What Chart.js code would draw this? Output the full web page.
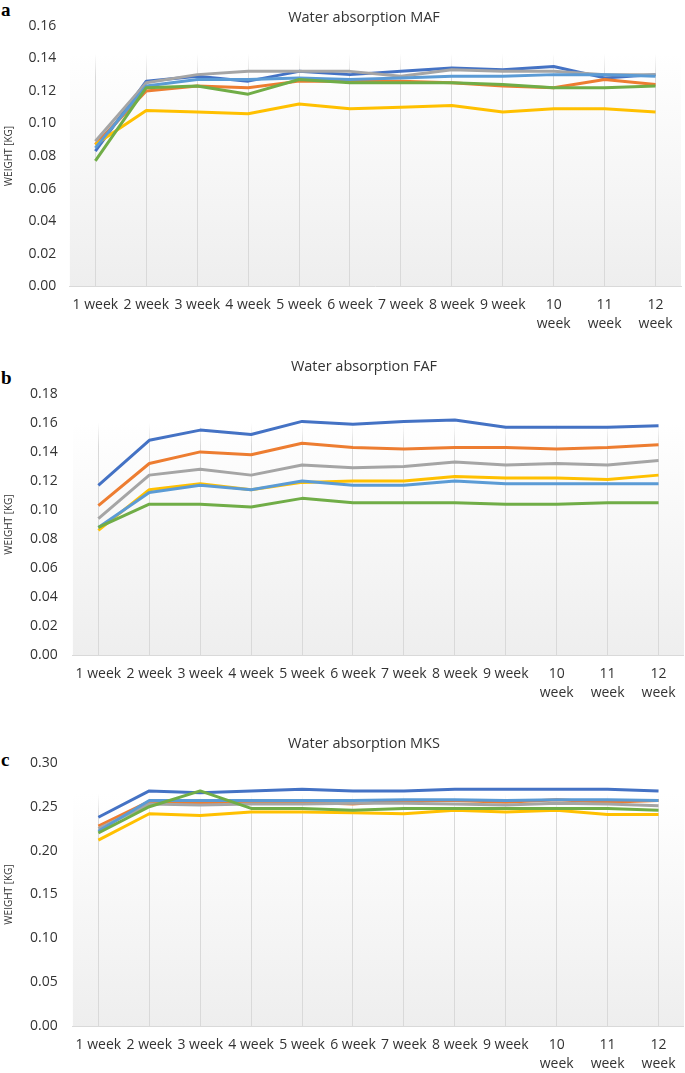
<!DOCTYPE html>
<html lang="en">
<head>
<meta charset="UTF-8">
<title>Water absorption</title>
<script src="https://cdn.jsdelivr.net/npm/chart.js"></script>
<style>
  body { margin: 0; width: 685px; height: 1073px; overflow: hidden; background: #fff; position: relative; }
  .panel { position: absolute; left: 0; width: 685px; }
  .letter { position: absolute; left: 1px; font-family: 'Liberation Serif', serif; font-weight: bold; font-size: 19px; line-height: 1; color: #000; }
  .title { position: absolute; left: 0; width: 728px; text-align: center; font-family: 'Open Sans', sans-serif; font-size: 14.5px; line-height: 17px; color: #333; z-index: 2; }
</style>
</head>
<body>

<div class="letter" style="top:0px">a</div>
<div class="letter" style="top:368px">b</div>
<div class="letter" style="top:750px">c</div>

<div class="title" style="top:8px">Water absorption MAF</div>
<div class="title" style="top:357px">Water absorption FAF</div>
<div class="title" style="top:734px">Water absorption MKS</div>

<div class="panel" style="top:0px;height:343px"><canvas id="chartMAF"></canvas></div>
<div class="panel" style="top:349px;height:363px"><canvas id="chartFAF"></canvas></div>
<div class="panel" style="top:726px;height:357px"><canvas id="chartMKS"></canvas></div>

<script>
// categories
const weeks = ['1 week', '2 week', '3 week', '4 week', '5 week', '6 week', '7 week', '8 week', '9 week',
    ['10', 'week'], ['11', 'week'], ['12', 'week']];

// Excel default palette: blue, orange, gray, yellow, light blue, green
const seriesColors = ['#4472C4', '#ED7D31', '#A5A5A5', '#FFC000', '#5B9BD5', '#70AD47'];

// a - MAF
const mafBlue = [0.083, 0.126, 0.129, 0.126, 0.132, 0.130, 0.132, 0.134, 0.133, 0.135, 0.128, 0.130];
const mafOrange = [0.087, 0.120, 0.123, 0.122, 0.126, 0.126, 0.126, 0.125, 0.123, 0.122, 0.127, 0.124];
const mafGray = [0.089, 0.125, 0.130, 0.132, 0.132, 0.132, 0.129, 0.133, 0.132, 0.132, 0.130, 0.130];
const mafYellow = [0.087, 0.108, 0.107, 0.106, 0.112, 0.109, 0.110, 0.111, 0.107, 0.109, 0.109, 0.107];
const mafLightBlue = [0.085, 0.123, 0.127, 0.127, 0.128, 0.127, 0.128, 0.129, 0.129, 0.130, 0.130, 0.129];
const mafGreen = [0.077, 0.122, 0.123, 0.118, 0.127, 0.125, 0.125, 0.125, 0.124, 0.122, 0.122, 0.123];

// b - FAF
const fafBlue = [0.117, 0.148, 0.155, 0.152, 0.161, 0.159, 0.161, 0.162, 0.157, 0.157, 0.157, 0.158];
const fafOrange = [0.103, 0.132, 0.140, 0.138, 0.146, 0.143, 0.142, 0.143, 0.143, 0.142, 0.143, 0.145];
const fafGray = [0.094, 0.124, 0.128, 0.124, 0.131, 0.129, 0.130, 0.133, 0.131, 0.132, 0.131, 0.134];
const fafYellow = [0.086, 0.114, 0.118, 0.114, 0.119, 0.120, 0.120, 0.123, 0.122, 0.122, 0.121, 0.124];
const fafLightBlue = [0.088, 0.112, 0.117, 0.114, 0.120, 0.117, 0.117, 0.120, 0.118, 0.118, 0.118, 0.118];
const fafGreen = [0.088, 0.104, 0.104, 0.102, 0.108, 0.105, 0.105, 0.105, 0.104, 0.104, 0.105, 0.105];

// c - MKS
const mksBlue = [0.238, 0.268, 0.266, 0.268, 0.270, 0.268, 0.268, 0.270, 0.270, 0.270, 0.270, 0.268];
const mksOrange = [0.228, 0.256, 0.254, 0.256, 0.255, 0.253, 0.257, 0.257, 0.255, 0.258, 0.255, 0.257];
const mksGray = [0.225, 0.253, 0.252, 0.253, 0.253, 0.254, 0.254, 0.253, 0.252, 0.254, 0.253, 0.251];
const mksYellow = [0.212, 0.242, 0.240, 0.244, 0.244, 0.243, 0.242, 0.246, 0.244, 0.246, 0.241, 0.241];
const mksLightBlue = [0.222, 0.257, 0.257, 0.257, 0.257, 0.257, 0.258, 0.258, 0.257, 0.258, 0.258, 0.257];
const mksGreen = [0.220, 0.250, 0.268, 0.248, 0.248, 0.246, 0.248, 0.248, 0.248, 0.248, 0.248, 0.246];

const textColor = '#333333';
const fontFamily = "'Open Sans', sans-serif";

// gray gradient behind the plot, starting a bit above the data
const plotAreaFill = {
    id: 'plotArea',
    beforeDraw(chart, args, opts) {
        const { ctx, chartArea: a, scales: { y } } = chart;
        const top = y.getPixelForValue(opts.top);
        const g = ctx.createLinearGradient(0, top, 0, a.bottom);
        g.addColorStop(0, '#ffffff');
        g.addColorStop(1, '#eeeeee');
        ctx.save();
        ctx.fillStyle = g;
        ctx.fillRect(a.left, top, a.right - a.left, a.bottom - top);
        ctx.restore();
    }
};

function gridColor(chart, topValue) {
    const a = chart.chartArea;
    const y = chart.scales.y;
    if (!a || !y) return '#d9d9d9';
    const top = y.getPixelForValue(topValue);
    if (!isFinite(top) || !isFinite(a.bottom) || a.bottom <= top) return '#d9d9d9';
    const g = chart.ctx.createLinearGradient(0, top, 0, a.bottom);
    g.addColorStop(0, 'rgba(217,217,217,0)');
    g.addColorStop(0.1, 'rgba(217,217,217,1)');
    g.addColorStop(1, 'rgba(217,217,217,1)');
    return g;
}

function drawPanel(id, series, yMax, yStep, plotTop, pad) {
    new Chart(document.getElementById(id), {
        type: 'line',
        data: {
            labels: weeks,
            datasets: series.map(function (d, i) {
                return {
                    data: d,
                    borderColor: seriesColors[i],
                    backgroundColor: seriesColors[i],
                    borderWidth: 3,
                    pointRadius: 0,
                    tension: 0,
                    fill: false,
                    borderJoinStyle: 'round',
                    order: series.length - i
                };
            })
        },
        options: {
            responsive: true,
            maintainAspectRatio: false,
            animation: false,
            layout: { padding: { left: pad.left, right: pad.right, top: pad.top, bottom: 0 } },
            plugins: {
                legend: { display: false },
                tooltip: { enabled: false },
                plotArea: { top: plotTop }
            },
            scales: {
                x: {
                    offset: true,
                    grid: {
                        offset: false,
                        drawTicks: false,
                        lineWidth: 1,
                        color: function (ctx) { return gridColor(ctx.chart, plotTop); }
                    },
                    border: { color: '#d9d9d9', width: 1 },
                    ticks: {
                        autoSkip: false,
                        maxRotation: 0,
                        padding: 9.5,
                        color: textColor,
                        font: { family: fontFamily, size: 14, lineHeight: 1.35 }
                    }
                },
                y: {
                    min: 0,
                    max: yMax,
                    grid: { display: false, drawTicks: false },
                    border: { display: false },
                    ticks: {
                        stepSize: yStep,
                        padding: pad.tick,
                        color: textColor,
                        font: { family: fontFamily, size: 14 },
                        callback: function (v) { return v.toFixed(2); }
                    },
                    title: {
                        display: true,
                        text: 'WEIGHT [KG]',
                        color: textColor,
                        padding: 0,
                        font: { family: fontFamily, size: 10 }
                    }
                }
            }
        },
        plugins: [plotAreaFill]
    });
}

drawPanel('chartMAF', [mafBlue, mafOrange, mafGray, mafYellow, mafLightBlue, mafGreen],
    0.16, 0.02, 0.143, { left: 3, right: 4, tick: 13.6, top: 25.8 });

drawPanel('chartFAF', [fafBlue, fafOrange, fafGray, fafYellow, fafLightBlue, fafGreen],
    0.18, 0.02, 0.160, { left: 3, right: 0, tick: 15.1, top: 44.8 });

drawPanel('chartMKS', [mksBlue, mksOrange, mksGray, mksYellow, mksLightBlue, mksGreen],
    0.30, 0.05, 0.265, { left: 3, right: 0, tick: 15.1, top: 36.8 });
</script>
</body>
</html>
